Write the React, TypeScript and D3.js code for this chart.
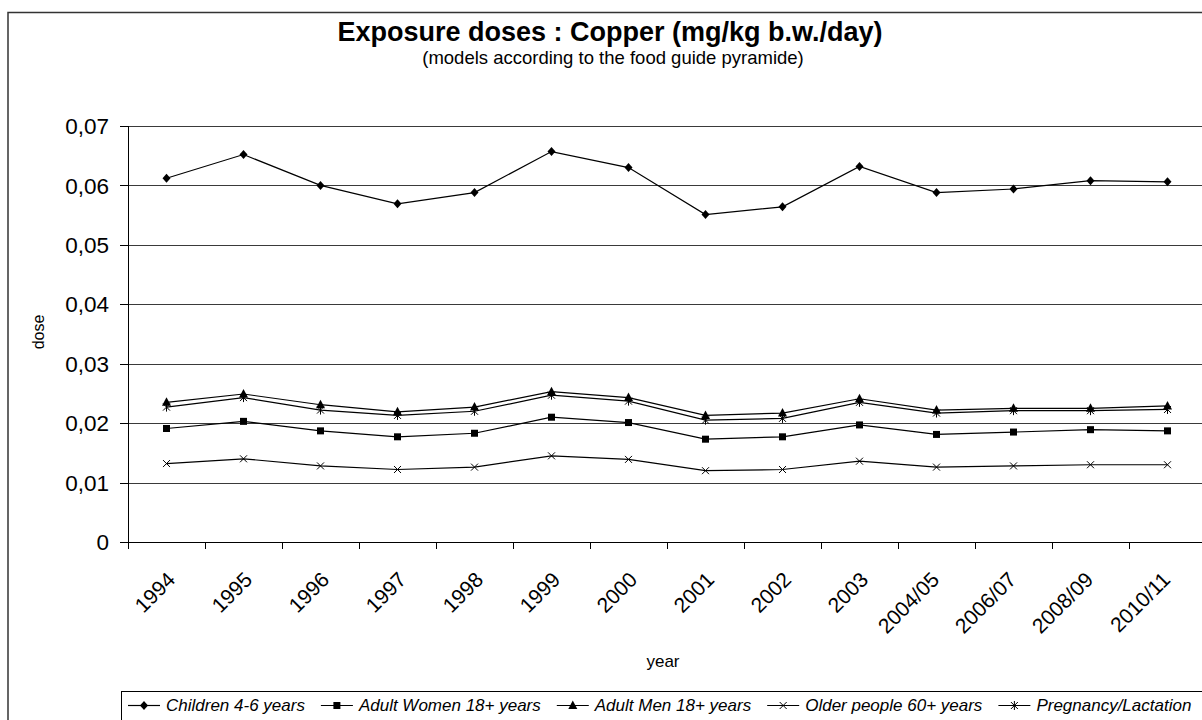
import React from 'react';
import * as d3 from 'd3';

const categories = ['1994', '1995', '1996', '1997', '1998', '1999', '2000', '2001', '2002', '2003', '2004/05', '2006/07', '2008/09', '2010/11'];
const children = [0.0612, 0.0652, 0.0600, 0.0569, 0.0588, 0.0657, 0.0630, 0.0551, 0.0564, 0.0632, 0.0588, 0.0594, 0.0608, 0.0606];
const women = [0.0191, 0.0203, 0.0187, 0.0177, 0.0183, 0.0210, 0.0201, 0.0173, 0.0177, 0.0197, 0.0181, 0.0185, 0.0189, 0.0187];
const men = [0.0235, 0.0249, 0.0231, 0.0219, 0.0227, 0.0253, 0.0243, 0.0213, 0.0217, 0.0241, 0.0222, 0.0225, 0.0225, 0.0229];
const older = [0.0132, 0.0140, 0.0128, 0.0122, 0.0126, 0.0145, 0.0139, 0.0120, 0.0122, 0.0136, 0.0126, 0.0128, 0.0130, 0.0130];
const pregnancy = [0.0227, 0.0243, 0.0222, 0.0213, 0.0220, 0.0247, 0.0237, 0.0205, 0.0208, 0.0235, 0.0217, 0.0221, 0.0221, 0.0223];
const seriesNames = ['Children 4-6 years', 'Adult Women 18+ years', 'Adult Men 18+ years', 'Older people 60+ years', 'Pregnancy/Lactation'];
const yTicks = [0, 0.01, 0.02, 0.03, 0.04, 0.05, 0.06, 0.07];

const titleText = 'Exposure doses : Copper (mg/kg b.w./day)';
const subtitleText = '(models according to the food guide pyramide)';

const W = 1202;
const H = 720;
const FONT = '"Liberation Sans", Arial, Helvetica, sans-serif';

const plotLeft = 128;
const bandW = 77;
const plotTop = 126;
const plotBottom = 542;

const x = d3.scaleBand<string>().domain(categories).range([plotLeft, plotLeft + bandW * categories.length]).padding(0);
const y = d3.scaleLinear().domain([0, 0.07]).range([plotBottom, plotTop]);

const series = [
  { name: seriesNames[0], values: children, marker: 'diamond' },
  { name: seriesNames[1], values: women, marker: 'square' },
  { name: seriesNames[2], values: men, marker: 'triangle' },
  { name: seriesNames[3], values: older, marker: 'x' },
  { name: seriesNames[4], values: pregnancy, marker: 'star' },
];

function measure(text: string, size: number, style = ''): number {
  const c = document.createElement('canvas');
  const ctx = c.getContext('2d');
  if (!ctx) return text.length * size * 0.5;
  ctx.font = `${style} ${size}px "Liberation Sans", Arial, sans-serif`;
  return ctx.measureText(text).width;
}

function Marker({ type, cx, cy }: { type: string; cx: number; cy: number }) {
  if (type === 'diamond') {
    return <path d={`M${cx},${cy - 4.5}L${cx + 4},${cy}L${cx},${cy + 4.5}L${cx - 4},${cy}Z`} fill="#000" />;
  }
  if (type === 'square') {
    return <rect x={cx - 3.5} y={cy - 3.5} width={7} height={7} fill="#000" />;
  }
  if (type === 'triangle') {
    return <path d={`M${cx},${cy - 5}L${cx + 4.5},${cy + 3.5}L${cx - 4.5},${cy + 3.5}Z`} fill="#000" />;
  }
  if (type === 'x') {
    return (
      <path d={`M${cx - 3.5},${cy - 3.5}L${cx + 3.5},${cy + 3.5}M${cx + 3.5},${cy - 3.5}L${cx - 3.5},${cy + 3.5}`} stroke="#000" strokeWidth={1} fill="none" />
    );
  }
  return (
    <path
      d={`M${cx - 3.5},${cy - 3.5}L${cx + 3.5},${cy + 3.5}M${cx + 3.5},${cy - 3.5}L${cx - 3.5},${cy + 3.5}M${cx},${cy - 4.5}L${cx},${cy + 4.5}`}
      stroke="#000"
      strokeWidth={1}
      fill="none"
    />
  );
}

const fmt = (v: number) => (v === 0 ? '0' : v.toFixed(2).replace('.', ','));

export default function App() {
  const line = d3
    .line<number>()
    .x((_, i) => (x(categories[i]) as number) + x.bandwidth() / 2)
    .y((d) => y(d));

  const plotRight = plotLeft + bandW * categories.length;

  // legend layout
  const legFont = 17;
  const legendItems: { name: string; marker: string; lx: number; tx: number }[] = [];
  let cur = 128;
  series.forEach((s) => {
    const lx = cur;
    const tx = lx + 38;
    const tw = measure(s.name, legFont, 'italic');
    legendItems.push({ name: s.name, marker: s.marker, lx, tx });
    cur = tx + tw + 16;
  });

  return (
    <svg
      width={W}
      height={H}
      viewBox={`0 0 ${W} ${H}`}
      style={{ position: 'absolute', left: 0, top: 0, display: 'block', background: '#fff' }}
      fontFamily={FONT}
    >
      <rect x={0} y={0} width={W} height={H} fill="#fff" />
      {/* chart area border */}
      <rect x={8} y={12.5} width={1212} height={730} fill="none" stroke="#333" strokeWidth={1.5} />

      {/* title */}
      <text x={610} y={41} textAnchor="middle" fontSize={27} fontWeight="bold" fill="#000">
        {titleText}
      </text>
      <text x={613} y={64} textAnchor="middle" fontSize={18.5} fill="#000">
        {subtitleText}
      </text>

      {/* gridlines */}
      {yTicks.map((t) => (
        <line key={'g' + t} x1={plotLeft} x2={plotRight} y1={Math.round(y(t)) + 0.5} y2={Math.round(y(t)) + 0.5} stroke={t === 0 ? '#000' : '#3a3a3a'} strokeWidth={1} />
      ))}
      {/* y axis */}
      <line x1={plotLeft + 0.5} x2={plotLeft + 0.5} y1={plotTop} y2={plotBottom + 7} stroke="#000" strokeWidth={1} />
      {yTicks.map((t) => (
        <g key={'yt' + t}>
          <line x1={plotLeft - 8} x2={plotLeft} y1={Math.round(y(t)) + 0.5} y2={Math.round(y(t)) + 0.5} stroke="#000" strokeWidth={1} />
          <text x={109} y={y(t)} dy="0.36em" textAnchor="end" fontSize={22.5} fill="#000">
            {fmt(t)}
          </text>
        </g>
      ))}
      {/* x ticks */}
      {categories.map((c) => (
        <line key={'xt' + c} x1={Math.round(x(c) as number) + 0.5} x2={Math.round(x(c) as number) + 0.5} y1={plotBottom} y2={plotBottom + 7} stroke="#000" strokeWidth={1} />
      ))}
      {categories.map((c) => {
        const cx = (x(c) as number) + x.bandwidth() / 2;
        const shift = c.length > 4 ? 4 : 10;
        return (
          <text key={'xl' + c} transform={`translate(${cx + shift},${plotBottom + 39}) rotate(-45)`} textAnchor="end" fontSize={21} fill="#000">
            {c}
          </text>
        );
      })}

      {/* axis titles */}
      <text transform={`translate(44,332) rotate(-90)`} textAnchor="middle" fontSize={16} fill="#000">
        dose
      </text>
      <text x={(plotLeft + plotRight) / 2 - 4} y={667} textAnchor="middle" fontSize={17} fill="#000">
        year
      </text>

      {/* series */}
      {series.map((s) => (
        <g key={s.name}>
          <path d={line(s.values) || ''} fill="none" stroke="#000" strokeWidth={1.2} />
          {s.values.map((v, i) => (
            <Marker key={i} type={s.marker} cx={(x(categories[i]) as number) + x.bandwidth() / 2} cy={y(v)} />
          ))}
        </g>
      ))}

      {/* legend */}
      <rect x={121.5} y={691.5} width={1100} height={40} fill="#fff" stroke="#000" strokeWidth={1} />
      {legendItems.map((it) => (
        <g key={'leg' + it.name}>
          <line x1={it.lx} x2={it.lx + 32} y1={705.5} y2={705.5} stroke="#000" strokeWidth={1.2} />
          <Marker type={it.marker} cx={it.lx + 16} cy={705.5} />
          <text x={it.tx} y={705} dy="0.35em" fontSize={legFont} fontStyle="italic" fill="#000">
            {it.name}
          </text>
        </g>
      ))}
    </svg>
  );
}
